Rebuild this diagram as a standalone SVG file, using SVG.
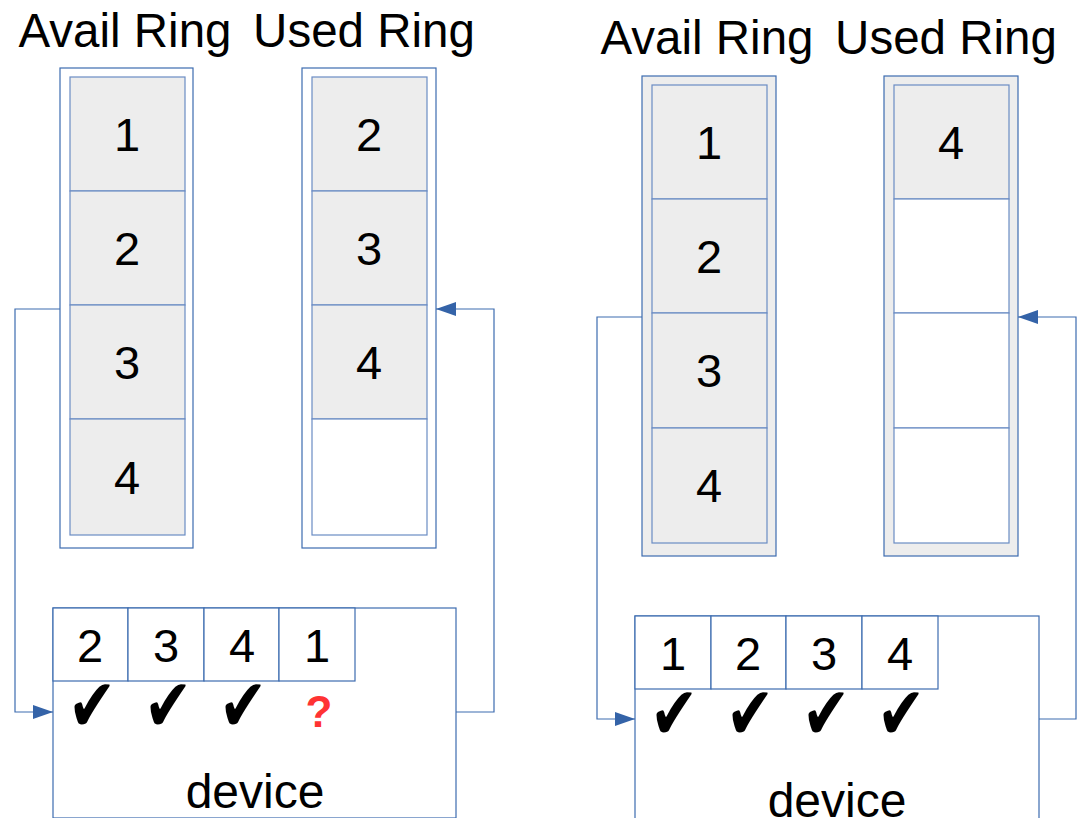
<svg xmlns="http://www.w3.org/2000/svg" width="1079" height="818" viewBox="0 0 1079 818">
<style>
  .outer{fill:#ffffff;stroke:#3d6cb0;stroke-width:1.2}
  .outerg{fill:#ededed;stroke:#3d6cb0;stroke-width:1.2}
  .cell{fill:#ededed;stroke:#6a8cc4;stroke-width:1.2}
  .empty{fill:#ffffff;stroke:#6a8cc4;stroke-width:1.2}
  .dev{fill:#ffffff;stroke:#3d6cb0;stroke-width:1.2}
  .slot{fill:#ffffff;stroke:#3d6cb0;stroke-width:1.2}
  .t{font-family:"Liberation Sans",Arial,sans-serif;fill:#000;text-anchor:middle}
  .title{font-size:47.5px}
  .num{font-size:47px}
  .devt{font-size:48px}
  .chk{font-family:"DejaVu Sans",sans-serif;font-size:58px;fill:#000;text-anchor:middle}
  .q{font-family:"Liberation Sans",Arial,sans-serif;font-size:44px;font-weight:bold;fill:#ff3333;text-anchor:middle}
  .conn{fill:none;stroke:#3d6cb0;stroke-width:1.2}
</style>
<defs>
  <marker id="arr" markerWidth="20" markerHeight="14" refX="20" refY="7" orient="auto" markerUnits="userSpaceOnUse">
    <path d="M0,0 L20,7 L0,14 Z" fill="#3463a8"/>
  </marker>
</defs>

<!-- Left panel -->
<g id="left-titles">
  <text class="t title" x="125" y="47">Avail Ring</text>
  <text class="t title" x="364" y="47">Used Ring</text>
</g>
<g id="left-avail">
  <rect class="outer" x="60" y="68" width="133" height="480"/>
  <rect class="cell" x="70" y="77" width="115" height="114"/>
  <rect class="cell" x="70" y="191" width="115" height="114"/>
  <rect class="cell" x="70" y="305" width="115" height="114"/>
  <rect class="cell" x="70" y="419" width="115" height="116"/>
  <text class="t num" x="127" y="151">1</text>
  <text class="t num" x="127" y="265">2</text>
  <text class="t num" x="127" y="379">3</text>
  <text class="t num" x="127" y="494">4</text>
</g>
<g id="left-used">
  <rect class="outer" x="302" y="68" width="134" height="480"/>
  <rect class="cell" x="312" y="77" width="115" height="114"/>
  <rect class="cell" x="312" y="191" width="115" height="114"/>
  <rect class="cell" x="312" y="305" width="115" height="114"/>
  <rect class="empty" x="312" y="419" width="115" height="116"/>
  <text class="t num" x="369" y="151">2</text>
  <text class="t num" x="369" y="265">3</text>
  <text class="t num" x="369" y="379">4</text>
</g>
<g id="left-device">
  <rect class="dev" x="53" y="608" width="403" height="210"/>
  <rect class="slot" x="53" y="608" width="75" height="73"/>
  <rect class="slot" x="128" y="608" width="76" height="73"/>
  <rect class="slot" x="204" y="608" width="75" height="73"/>
  <rect class="slot" x="279" y="608" width="76" height="73"/>
  <text class="t num" x="90" y="662">2</text>
  <text class="t num" x="166" y="662">3</text>
  <text class="t num" x="242" y="662">4</text>
  <text class="t num" x="317" y="662">1</text>
  <text class="chk" transform="translate(92,731) scale(1,1.28)">✔</text>
  <text class="chk" transform="translate(168,731) scale(1,1.28)">✔</text>
  <text class="chk" transform="translate(243,731) scale(1,1.28)">✔</text>
  <text class="q" x="319" y="727">?</text>
  <text class="t devt" x="255" y="808">device</text>
</g>

<!-- Right panel -->
<g id="right-titles">
  <text class="t title" x="707" y="54">Avail Ring</text>
  <text class="t title" x="946" y="54">Used Ring</text>
</g>
<g id="right-avail">
  <rect class="outerg" x="642" y="76" width="134" height="480"/>
  <rect class="cell" x="652" y="85" width="115" height="114"/>
  <rect class="cell" x="652" y="199" width="115" height="114"/>
  <rect class="cell" x="652" y="313" width="115" height="115"/>
  <rect class="cell" x="652" y="428" width="115" height="115"/>
  <text class="t num" x="709" y="159">1</text>
  <text class="t num" x="709" y="273">2</text>
  <text class="t num" x="709" y="387">3</text>
  <text class="t num" x="709" y="502">4</text>
</g>
<g id="right-used">
  <rect class="outerg" x="884" y="76" width="134" height="480"/>
  <rect class="cell" x="894" y="85" width="115" height="114"/>
  <rect class="empty" x="894" y="199" width="115" height="114"/>
  <rect class="empty" x="894" y="313" width="115" height="115"/>
  <rect class="empty" x="894" y="428" width="115" height="115"/>
  <text class="t num" x="951" y="159">4</text>
</g>
<g id="right-device">
  <rect class="dev" x="635" y="616" width="404" height="210"/>
  <rect class="slot" x="635" y="616" width="76" height="73"/>
  <rect class="slot" x="711" y="616" width="75" height="73"/>
  <rect class="slot" x="786" y="616" width="76" height="73"/>
  <rect class="slot" x="862" y="616" width="76" height="73"/>
  <text class="t num" x="673" y="670">1</text>
  <text class="t num" x="748" y="670">2</text>
  <text class="t num" x="824" y="670">3</text>
  <text class="t num" x="900" y="670">4</text>
  <text class="chk" transform="translate(674,739) scale(1,1.28)">✔</text>
  <text class="chk" transform="translate(750,739) scale(1,1.28)">✔</text>
  <text class="chk" transform="translate(826,739) scale(1,1.28)">✔</text>
  <text class="chk" transform="translate(901,739) scale(1,1.28)">✔</text>
  <text class="t devt" x="837" y="817">device</text>
</g>

<g id="connectors">
  <polyline class="conn" points="60,309 15,309 15,712 53,712" marker-end="url(#arr)"/>
  <polyline class="conn" points="456,712 494,712 494,309 436,309" marker-end="url(#arr)"/>
  <polyline class="conn" points="642,317 597,317 597,719 635,719" marker-end="url(#arr)"/>
  <polyline class="conn" points="1039,719 1076,719 1076,317 1018,317" marker-end="url(#arr)"/>
</g>
</svg>
